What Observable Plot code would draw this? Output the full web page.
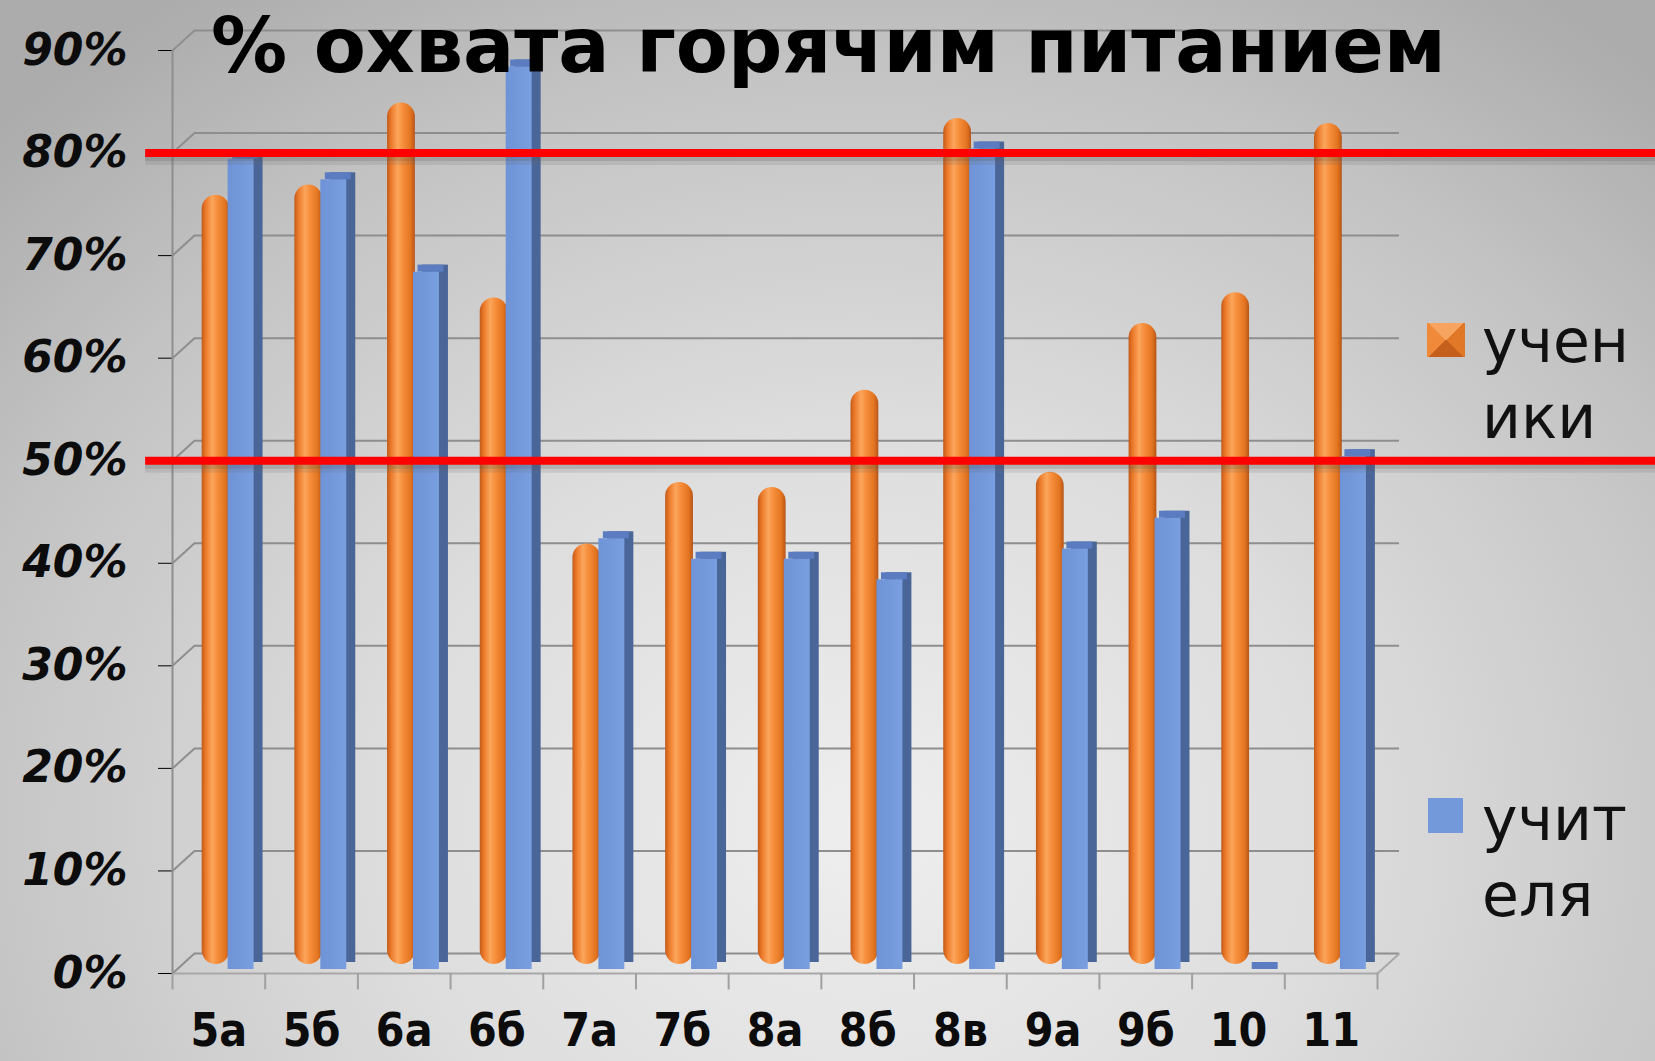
<!DOCTYPE html>
<html>
<head>
<meta charset="utf-8">
<script src="https://cdn.jsdelivr.net/npm/d3@7"></script>
<script src="https://cdn.jsdelivr.net/npm/@observablehq/plot@0.6"></script>
<style>
html, body { margin: 0; padding: 0; width: 1655px; height: 1061px; overflow: hidden; }
body {
  position: relative;
  font-family: "DejaVu Sans", sans-serif;
  background: radial-gradient(ellipse 72% 95% at 52% 78%, #eeeeee 0%, #dddddd 40%, #c4c4c4 75%, #acacac 100%);
}
#chart { position: absolute; left: 0; top: 0; }
#title {
  position: absolute; left: 211px; top: 8px;
  font: bold 76px/76px "DejaVu Sans", sans-serif; color: #000; white-space: nowrap;
}
.lgt {
  position: absolute; font: 60px/76px "DejaVu Sans", sans-serif; color: #111; white-space: nowrap;
}
.sw { position: absolute; }
</style>
</head>
<body>
<div id="chart"></div>
<div id="title">% охвата горячим питанием</div>
<div class="sw" id="sw0" style="left:1427px; top:323px; width:38px; height:34px;
  background: conic-gradient(from 0deg at 50% 50%, #f7a461 0deg 45deg, #e07828 45deg 135deg, #c45f1c 135deg 225deg, #f08a3a 225deg 315deg, #f7a461 315deg);"></div>
<div class="lgt" id="lg0" style="left:1482px; top:303px;">учен<br>ики</div>
<div class="sw" id="sw1" style="left:1428px; top:798px; width:35px; height:35px; background:#7399db;"></div>
<div class="lgt" id="lg1" style="left:1482px; top:781px;">учит<br>еля</div>
<script>
// ---- data ----
const categories = ["5а", "5б", "6а", "6б", "7а", "7б", "8а", "8б", "8в", "9а", "9б", "10", "11"];
const students = [0.75, 0.76, 0.84, 0.65, 0.41, 0.47, 0.465, 0.56, 0.825, 0.48, 0.625, 0.655, 0.82];
const teachers = [0.79, 0.77, 0.68, 0.88, 0.42, 0.40, 0.40, 0.38, 0.80, 0.41, 0.44, 0.00, 0.50];
const seriesNames = ["ученики", "учителя"];
const yTicks = [0, 0.1, 0.2, 0.3, 0.4, 0.5, 0.6, 0.7, 0.8, 0.9];
const thresholds = [0.8, 0.5];

const rows = categories.map((c, i) => ({i, c, s: students[i], t: teachers[i]}));
const n = categories.length;
const bounds = d3.range(n + 1);
const centers = categories.map((c, i) => i + 0.5);

// 3D depth of the box, in scale units (≈ 22px right, 20px up)
const depthX = 0.237, depthY = 0.0195, tickDepth = 0.016;
const gridColor = "#8e8e8e";

const chart = Plot.plot({
  width: 1655,
  height: 1061,
  marginLeft: 172,
  marginRight: 278,
  marginTop: 50,
  marginBottom: 88,
  style: {background: "transparent", overflow: "visible", fontFamily: "DejaVu Sans"},
  x: {type: "linear", domain: [0, n], ticks: centers, tickSize: 0, tickPadding: 40,
      tickFormat: t => categories[Math.floor(t)], label: null},
  y: {domain: [0, 0.9], ticks: yTicks, tickSize: 14, tickPadding: 31, tickFormat: d3.format(".0%"), label: null},
  marks: [
    // back wall gridlines
    Plot.ruleY(yTicks, {dx: 22, dy: -20, stroke: gridColor, strokeWidth: 2}),
    // side wall diagonals
    Plot.link(yTicks, {x1: () => 0, y1: d => d, x2: () => depthX, y2: d => d + depthY, stroke: gridColor, strokeWidth: 2}),
    Plot.link([0], {x1: () => n, y1: d => d, x2: () => n + depthX, y2: d => d + depthY, stroke: "#a8a8a8", strokeWidth: 2}),
    // floor front edge, front axis line, category boundary ticks
    Plot.ruleY([0], {stroke: "#a8a8a8", strokeWidth: 2}),
    Plot.ruleX([0], {y1: () => 0, y2: () => 0.9, stroke: gridColor, strokeWidth: 2}),
    Plot.ruleX(bounds, {y1: () => 0, y2: () => -tickDepth, stroke: "#a0a0a0", strokeWidth: 2}),
    // students: orange cylinders
    Plot.rect(rows, {x1: d => d.i + 0.32, x2: d => d.i + 0.62, y1: () => 0, y2: "s", dy: -9, rx: 14,
      fill: "url(#orangeGrad)", title: d => `${seriesNames[0]} ${d.c}: ${Math.round(d.s * 100)}%`}),
    // teachers: blue 3D columns (side, top, front)
    Plot.rect(rows, {x1: d => d.i + 0.60, x2: d => d.i + 0.88, y1: () => 0, y2: "t", dx: 9, dy: -11, fill: "#4a6699"}),
    Plot.rect(rows, {x1: d => d.i + 0.60, x2: d => d.i + 0.88, y1: "t", y2: "t", insetTop: -7, dx: 4.5, dy: -4, fill: "#5b7cc0"}),
    Plot.rect(rows, {x1: d => d.i + 0.60, x2: d => d.i + 0.88, y1: () => 0, y2: "t", dy: -4,
      fill: "url(#blueGrad)", title: d => `${seriesNames[1]} ${d.c}: ${Math.round(d.t * 100)}%`}),
    // red threshold lines with soft shadow
    Plot.ruleY(thresholds, {x1: () => -0.29, x2: () => n + 3.2, stroke: "#666", strokeOpacity: 0.16, strokeWidth: 12, dy: 6}),
    Plot.ruleY(thresholds, {x1: () => -0.29, x2: () => n + 3.2, stroke: "#555", strokeOpacity: 0.2, strokeWidth: 6, dy: 5}),
    Plot.ruleY(thresholds, {x1: () => -0.29, x2: () => n + 3.2, stroke: "#ff0000", strokeWidth: 8})
  ]
});

const svg = d3.select(chart);
const defs = svg.insert("defs", ":first-child");
const og = defs.append("linearGradient").attr("id", "orangeGrad").attr("x1", 0).attr("x2", 1).attr("y1", 0).attr("y2", 0);
[[0, "#c25a1a"], [0.15, "#ec7a2a"], [0.38, "#fba65c"], [0.55, "#f78f3d"], [0.85, "#e2741f"], [1, "#b6541a"]]
  .forEach(([o, c]) => og.append("stop").attr("offset", o).attr("stop-color", c));
const bg = defs.append("linearGradient").attr("id", "blueGrad").attr("x1", 0).attr("x2", 1).attr("y1", 0).attr("y2", 0);
[[0, "#6e93d6"], [1, "#7a9fe0"]].forEach(([o, c]) => bg.append("stop").attr("offset", o).attr("stop-color", c));

// axis styling (identify axis texts by content)
const yLabels = new Set(yTicks.map(d3.format(".0%")));
svg.selectAll("text").each(function() {
  const s = this.textContent;
  const t = d3.select(this);
  if (yLabels.has(s)) {
    t.style("font-size", "44px").style("font-weight", "bold").style("font-style", "italic")
     .style("font-family", "'DejaVu Sans'").style("fill", "#0c0c0c");
    d3.select(this.parentNode).selectAll("line").style("stroke", gridColor).style("stroke-width", "2px");
  } else if (categories.includes(s)) {
    t.style("font-size", "46px").style("font-weight", "bold")
     .style("font-family", "'DejaVu Sans Condensed', 'DejaVu Sans'").style("fill", "#0c0c0c");
    d3.select(this.parentNode).selectAll("line").remove();
  }
});

document.getElementById("chart").appendChild(chart);

// fit title width to the reference
const title = document.getElementById("title");
const w = title.getBoundingClientRect().width;
title.style.letterSpacing = ((1235 - w) / title.textContent.length) + "px";
</script>
</body>
</html>
